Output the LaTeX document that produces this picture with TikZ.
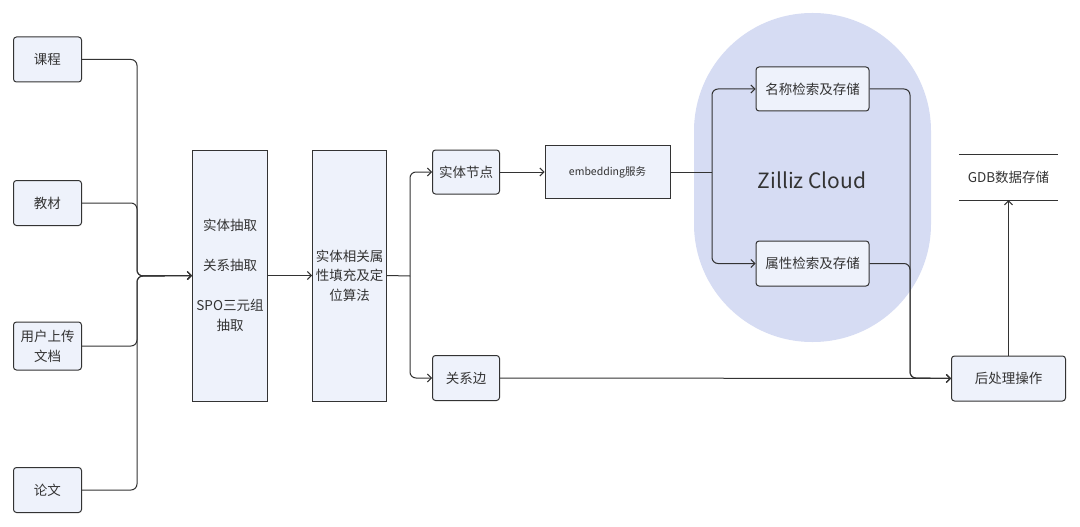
\documentclass[tikz,border=0pt]{standalone}
\usepackage{fontspec}
\setmainfont{Noto Sans CJK SC}
\usetikzlibrary{arrows.meta,positioning}
\definecolor{boxfill}{HTML}{EEF2FB}
\definecolor{linec}{HTML}{333333}
\definecolor{cloudc}{HTML}{D6DCF3}
\definecolor{textc}{HTML}{333333}
\tikzset{
  box/.style={draw=linec, line width=1pt, fill=boxfill, rounded corners=3pt, inner sep=0pt, text=textc, align=center, font=\fontsize{13.5}{19.5}\selectfont},
  tallbox/.style={box, rounded corners=0pt},
  conn/.style={draw=linec, line width=1pt, rounded corners=6pt},
  arr/.style={conn, -{Straight Barb[length=4pt,width=8pt]}},
}
\begin{document}
\begin{tikzpicture}[x=1pt,y=-1pt]
\useasboundingbox (0,0) rectangle (1080,527);
% cloud
\fill[cloudc, rounded corners=118pt] (694,13) rectangle (931,342);
\node[text=textc, font=\fontsize{21}{24}\selectfont] (zc) at (812,180) {Zilliz Cloud};
% input boxes
\node[box, minimum width=68pt, minimum height=45pt] (c1) at (47.5,59.5) {课程};
\node[box, minimum width=68pt, minimum height=45pt] (c2) at (47.5,203) {教材};
\node[box, minimum width=68pt, minimum height=48pt, font=\fontsize{13.5}{20}\selectfont] (c3) at (47.5,346) {用户上传\\文档};
\node[box, minimum width=68pt, minimum height=45pt] (c4) at (47.5,490) {论文};
% tall boxes
\node[tallbox, minimum width=75pt, minimum height=251pt, text width=75pt] (b1) at (230,275.5) {实体抽取\\[20pt]关系抽取\\[21pt]SPO三元组\\抽取};
\node[tallbox, minimum width=74pt, minimum height=251pt, text width=74pt] (b2) at (349.5,275.5) {实体相关属\\性填充及定\\位算法};
% middle
\node[box, minimum width=67pt, minimum height=44pt] (ent) at (466,172) {实体节点};
\node[box, minimum width=67pt, minimum height=45pt] (rel) at (466,378) {关系边};
\node[tallbox, minimum width=125pt, minimum height=53pt, font=\fontsize{10.5}{12}\selectfont] (emb) at (607.5,172) {embedding服务};
\node[box, minimum width=113pt, minimum height=44pt] (name) at (812.5,89) {名称检索及存储};
\node[box, minimum width=113pt, minimum height=45pt] (attr) at (812.5,263.5) {属性检索及存储};
\node[box, minimum width=114pt, minimum height=45pt] (post) at (1008.5,378.5) {后处理操作};
\node[minimum width=99pt, minimum height=45pt, inner sep=0pt, text=textc, font=\fontsize{13.5}{16}\selectfont] (gdb) at (1008.5,177.5) {GDB数据存储};
\draw[linec, line width=1pt] (gdb.north west) -- (gdb.north east);
\draw[linec, line width=1pt] (gdb.south west) -- (gdb.south east);
% coordinates
\coordinate (m1) at (137,276);
\coordinate (s2) at (410,276);
\coordinate (s3) at (712,172);
\coordinate (j1) at (910,378);
% connectors
\draw[arr] (c1.east) -| (m1) -- (b1.west);
\draw[arr] (c2.east) -| (m1) -- (b1.west);
\draw[arr] (c3.east) -| (m1) -- (b1.west);
\draw[arr] (c4.east) -| (m1) -- (b1.west);
\draw[arr] (b1.east) -- (b2.west);
\draw[conn] (b2.east) -- (s2);
\draw[arr] (s2) |- (ent.west);
\draw[arr] (s2) |- (rel.west);
\draw[arr] (ent.east) -- (emb.west);
\draw[conn] (emb.east) -- (s3);
\draw[arr] (s3) |- (name.west);
\draw[arr] (s3) |- (attr.west);
\draw[arr] (name.east) -| (j1) -- (post.west);
\draw[arr] (attr.east) -| (j1) -- (post.west);
\draw[arr] (rel.east) -- (post.west);
\draw[arr] (post.north) -- (gdb.south);
\end{tikzpicture}
\end{document}
